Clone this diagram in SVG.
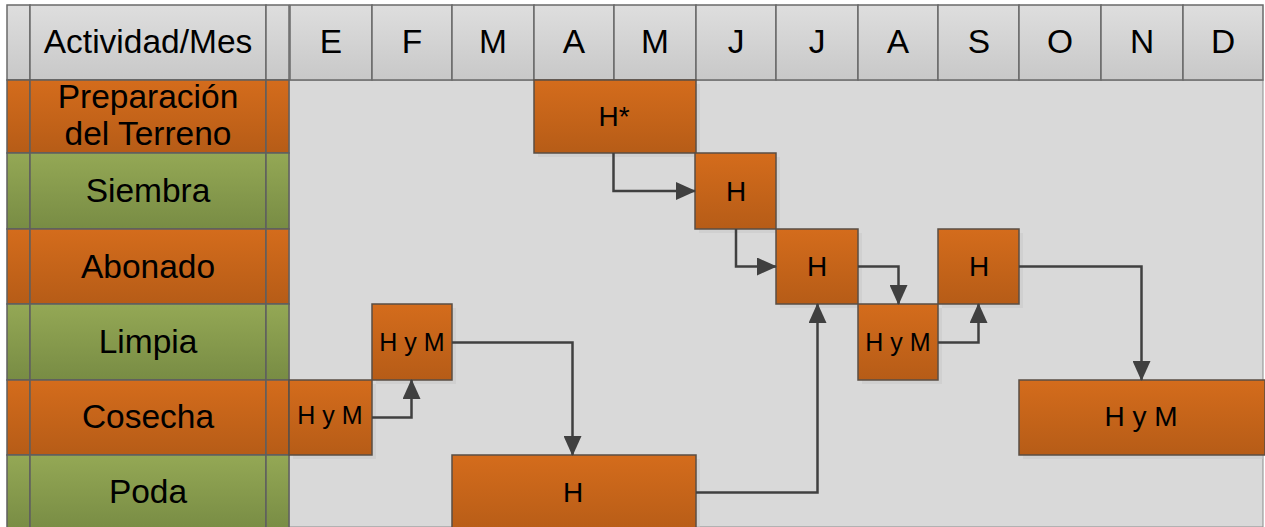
<svg xmlns="http://www.w3.org/2000/svg" width="1265" height="527" viewBox="0 0 1265 527">
<defs>
<linearGradient id="gOr" x1="0" y1="0" x2="0" y2="1"><stop offset="0" stop-color="#d46c1c"/><stop offset="1" stop-color="#b65c17"/></linearGradient>
<linearGradient id="gGr" x1="0" y1="0" x2="0" y2="1"><stop offset="0" stop-color="#94a855"/><stop offset="1" stop-color="#788c44"/></linearGradient>
<linearGradient id="gHd" x1="0" y1="0" x2="0" y2="1"><stop offset="0" stop-color="#dedede"/><stop offset="1" stop-color="#c8c8c8"/></linearGradient>
<marker id="arr" viewBox="0 0 20 18" refX="19" refY="9" markerWidth="20" markerHeight="18" markerUnits="userSpaceOnUse" orient="auto">
<path d="M0,0 L20,9 L0,18 Z" fill="#404040"/>
</marker>
<style>
.hd{fill:url(#gHd);stroke:#6a6a6a;stroke-width:1.5}
.or{fill:url(#gOr);stroke:#5f5f5f;stroke-width:1.5}
.gr{fill:url(#gGr);stroke:#5f5f5f;stroke-width:1.5}
.bx{fill:url(#gOr);stroke:#5a4e44;stroke-width:1.5}
.sh{fill:#c8c8c8;opacity:0.55}
.t{font-family:"Liberation Sans",Arial,sans-serif;fill:#000;text-anchor:middle}
.big{font-size:33.5px}
.h{font-size:28px}
.s{font-size:25px}
.cn{fill:none;stroke:#404040;stroke-width:2.5;marker-end:url(#arr)}
</style>
</defs>
<rect x="0" y="0" width="1265" height="527" fill="#ffffff"/>
<rect x="289" y="80" width="974" height="447" fill="#d9d9d9" stroke="#8a8a8a" stroke-width="1"/>

<g id="header">
<rect class="hd" x="7" y="5" width="23" height="75"/>
<rect class="hd" x="30" y="5" width="236" height="75"/>
<rect class="hd" x="266" y="5" width="23" height="75"/>
<text class="t big" x="148" y="53">Actividad/Mes</text>
<rect class="hd" x="290" y="5" width="82" height="75"/><text class="t big" x="331" y="53">E</text>
<rect class="hd" x="372" y="5" width="80" height="75"/><text class="t big" x="412" y="53">F</text>
<rect class="hd" x="452" y="5" width="82" height="75"/><text class="t big" x="493" y="53">M</text>
<rect class="hd" x="534" y="5" width="80" height="75"/><text class="t big" x="574" y="53">A</text>
<rect class="hd" x="614" y="5" width="82" height="75"/><text class="t big" x="655" y="53">M</text>
<rect class="hd" x="696" y="5" width="80" height="75"/><text class="t big" x="736" y="53">J</text>
<rect class="hd" x="776" y="5" width="82" height="75"/><text class="t big" x="817" y="53">J</text>
<rect class="hd" x="858" y="5" width="80" height="75"/><text class="t big" x="898" y="53">A</text>
<rect class="hd" x="938" y="5" width="81" height="75"/><text class="t big" x="979" y="53">S</text>
<rect class="hd" x="1019" y="5" width="82" height="75"/><text class="t big" x="1060" y="53">O</text>
<rect class="hd" x="1101" y="5" width="82" height="75"/><text class="t big" x="1142" y="53">N</text>
<rect class="hd" x="1183" y="5" width="80" height="75"/><text class="t big" x="1223" y="53">D</text>
</g>

<g id="row-preparacion">
<rect class="or" x="7" y="80" width="23" height="73"/>
<rect class="or" x="30" y="80" width="236" height="73"/>
<rect class="or" x="266" y="80" width="23" height="73"/>
<text class="t big" x="148" y="108">Preparación</text>
<text class="t big" x="148" y="145">del Terreno</text>
</g>
<g id="row-siembra">
<rect class="gr" x="7" y="153" width="23" height="76"/>
<rect class="gr" x="30" y="153" width="236" height="76"/>
<rect class="gr" x="266" y="153" width="23" height="76"/>
<text class="t big" x="148" y="202">Siembra</text>
</g>
<g id="row-abonado">
<rect class="or" x="7" y="229" width="23" height="75"/>
<rect class="or" x="30" y="229" width="236" height="75"/>
<rect class="or" x="266" y="229" width="23" height="75"/>
<text class="t big" x="148" y="278">Abonado</text>
</g>
<g id="row-limpia">
<rect class="gr" x="7" y="304" width="23" height="76"/>
<rect class="gr" x="30" y="304" width="236" height="76"/>
<rect class="gr" x="266" y="304" width="23" height="76"/>
<text class="t big" x="148" y="353">Limpia</text>
</g>
<g id="row-cosecha">
<rect class="or" x="7" y="380" width="23" height="75"/>
<rect class="or" x="30" y="380" width="236" height="75"/>
<rect class="or" x="266" y="380" width="23" height="75"/>
<text class="t big" x="148" y="428">Cosecha</text>
</g>
<g id="row-poda">
<rect class="gr" x="7" y="455" width="23" height="75"/>
<rect class="gr" x="30" y="455" width="236" height="75"/>
<rect class="gr" x="266" y="455" width="23" height="75"/>
<text class="t big" x="148" y="503">Poda</text>
</g>

<g id="n-prep">
<rect class="sh" x="538" y="84" width="162" height="73"/>
<rect class="bx" x="534" y="80" width="162" height="73"/>
<text class="t h" x="614" y="126">H*</text>
</g>
<g id="n-siembra">
<rect class="sh" x="699" y="157" width="81" height="76"/>
<rect class="bx" x="695" y="153" width="81" height="76"/>
<text class="t h" x="736" y="201">H</text>
</g>
<g id="n-abonado1">
<rect class="sh" x="780" y="233" width="82" height="75"/>
<rect class="bx" x="776" y="229" width="82" height="75"/>
<text class="t h" x="817" y="276">H</text>
</g>
<g id="n-abonado2">
<rect class="sh" x="942" y="233" width="81" height="75"/>
<rect class="bx" x="938" y="229" width="81" height="75"/>
<text class="t h" x="979" y="276">H</text>
</g>
<g id="n-limpia1">
<rect class="sh" x="376" y="308" width="80" height="76"/>
<rect class="bx" x="372" y="304" width="80" height="76"/>
<text class="t s" x="412" y="351">H y M</text>
</g>
<g id="n-limpia2">
<rect class="sh" x="862" y="308" width="80" height="76"/>
<rect class="bx" x="858" y="304" width="80" height="76"/>
<text class="t s" x="898" y="351">H y M</text>
</g>
<g id="n-cosecha1">
<rect class="sh" x="293" y="384" width="83" height="75"/>
<rect class="bx" x="289" y="380" width="83" height="75"/>
<text class="t s" x="330" y="424">H y M</text>
</g>
<g id="n-cosecha2">
<rect class="sh" x="1023" y="384" width="240" height="75"/>
<rect class="bx" x="1019" y="380" width="246" height="75"/>
<text class="t h" x="1141" y="426">H y M</text>
</g>
<g id="n-poda">
<rect class="sh" x="456" y="459" width="244" height="75"/>
<rect class="bx" x="452" y="455" width="244" height="80"/>
<text class="t h" x="573" y="502">H</text>
</g>

<g id="connectors">
<path class="cn" d="M613.5,153 V191 H695"/>
<path class="cn" d="M736,229 V266.5 H776"/>
<path class="cn" d="M858,266.5 H898.5 V304"/>
<path class="cn" d="M938,342.5 H978.5 V304"/>
<path class="cn" d="M1019,266.5 H1141.5 V380"/>
<path class="cn" d="M372,417.5 H411.5 V380"/>
<path class="cn" d="M452,342.5 H572.5 V455"/>
<path class="cn" d="M696,492.5 H817.5 V304"/>
</g>
</svg>
